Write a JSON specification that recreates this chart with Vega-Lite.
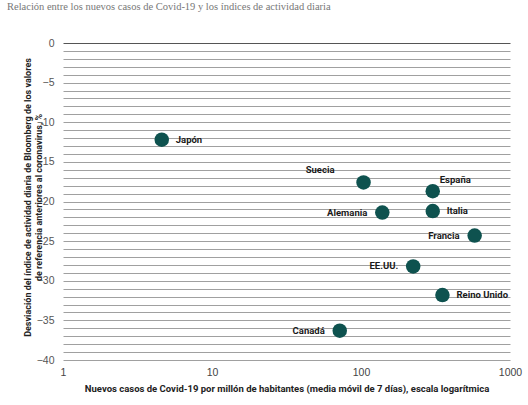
{
  "$schema": "https://vega.github.io/schema/vega-lite/v6.json",
  "width": 447,
  "height": 317,
  "autosize": "none",
  "padding": {"left": 63, "top": 43, "right": 18, "bottom": 45},
  "background": "white",
  "title": {
    "text": "Relación entre los nuevos casos de Covid-19 y los índices de actividad diaria",
    "anchor": "start",
    "frame": "group",
    "dx": -56,
    "offset": 26,
    "font": "Liberation Serif",
    "fontSize": 10.5,
    "fontWeight": "normal",
    "color": "#777777"
  },
  "config": {
    "view": {"stroke": null},
    "axis": {"labelFont": "Liberation Sans, sans-serif", "titleFont": "Roboto, sans-serif"}
  },
  "datasets": {
    "paises": [
      {"pais": "Japón", "casos": 4.6, "actividad": -12.2},
      {"pais": "Suecia", "casos": 104, "actividad": -17.6},
      {"pais": "España", "casos": 303, "actividad": -18.7},
      {"pais": "Alemania", "casos": 139, "actividad": -21.4},
      {"pais": "Italia", "casos": 303, "actividad": -21.2},
      {"pais": "Francia", "casos": 579, "actividad": -24.3},
      {"pais": "EE.UU.", "casos": 224, "actividad": -28.2},
      {"pais": "Reino Unido", "casos": 352, "actividad": -31.8},
      {"pais": "Canadá", "casos": 72, "actividad": -36.3}
    ]
  },
  "data": {"name": "paises"},
  "encoding": {
    "x": {
      "field": "casos",
      "type": "quantitative",
      "scale": {"type": "log", "domain": [1, 1000]},
      "axis": {
        "values": [1, 10, 100, 1000],
        "format": "d",
        "grid": false,
        "ticks": false,
        "domain": false,
        "labelFlush": false,
        "labelColor": "#444444",
        "labelFontSize": 10.5,
        "labelPadding": 7,
        "title": "Nuevos casos de Covid-19 por millón de habitantes (media móvil de 7 días), escala logarítmica",
        "titleFontSize": 9.5,
        "titleFontWeight": "bold",
        "titleColor": "#222222",
        "titlePadding": 6
      }
    },
    "y": {
      "field": "actividad",
      "type": "quantitative",
      "scale": {"domain": [-40, 0], "nice": false},
      "axis": {
        "values": [-40, -39, -38, -37, -36, -35, -34, -33, -32, -31, -30, -29, -28, -27, -26, -25, -24, -23, -22, -21, -20, -19, -18, -17, -16, -15, -14, -13, -12, -11, -10, -9, -8, -7, -6, -5, -4, -3, -2, -1, 0],
        "labelExpr": "datum.value % 5 === 0 ? datum.label : ''",
        "ticks": false,
        "domain": false,
        "grid": true,
        "gridColor": {"condition": {"test": "datum.value === 0", "value": "#555555"}, "value": "#a0a0a0"},
        "gridWidth": 1,
        "labelColor": "#555555",
        "labelFontSize": 10.5,
        "labelPadding": 9,
        "title": ["Desviación del índice de actividad diaria de Bloomberg de los valores", "\u00a0\u00a0\u00a0\u00a0\u00a0\u00a0\u00a0\u00a0\u00a0\u00a0\u00a0\u00a0\u00a0\u00a0\u00a0\u00a0\u00a0\u00a0\u00a0\u00a0\u00a0\u00a0\u00a0\u00a0\u00a0\u00a0de referencia anteriores al coronavirus, %"],
        "titleFontSize": 9,
        "titleFontWeight": "bold",
        "titleColor": "#222222",
        "titleAngle": -90,
        "titleAlign": "center",
        "titleBaseline": "bottom",
        "titleLineHeight": 11,
        "titleX": -31,
        "titleY": 154
      }
    }
  },
  "layer": [
    {
      "data": {"values": [{"corte": 10}, {"corte": 100}]},
      "mark": {"type": "rule", "color": "white", "strokeWidth": 3},
      "encoding": {
        "x": {"field": "corte", "type": "quantitative"},
        "y": {"datum": -0.25},
        "y2": {"datum": -40.4}
      }
    },
    {
      "data": {"values": [{"marca": 1}, {"marca": 10}, {"marca": 100}, {"marca": 1000}]},
      "mark": {"type": "tick", "orient": "vertical", "color": "#555555", "size": 6, "thickness": 1},
      "encoding": {
        "x": {"field": "marca", "type": "quantitative"},
        "y": {"datum": 0}
      }
    },
    {
      "mark": {"type": "circle", "size": 210, "color": "#0e524f", "opacity": 1}
    },
    {
      "transform": [{"filter": {"field": "pais", "oneOf": ["Japón", "Italia", "Reino Unido"]}}],
      "mark": {"type": "text", "align": "left", "dx": 14, "font": "Roboto", "fontWeight": "bold", "fontSize": 9.5, "color": "#1a1a1a"},
      "encoding": {"text": {"field": "pais"}}
    },
    {
      "transform": [{"filter": {"field": "pais", "oneOf": ["Alemania", "Francia", "EE.UU.", "Canadá"]}}],
      "mark": {"type": "text", "align": "right", "dx": -15, "font": "Roboto", "fontWeight": "bold", "fontSize": 9.5, "color": "#1a1a1a"},
      "encoding": {"text": {"field": "pais"}}
    },
    {
      "transform": [{"filter": {"field": "pais", "equal": "Suecia"}}],
      "mark": {"type": "text", "align": "right", "dx": -29, "dy": -12, "font": "Roboto", "fontWeight": "bold", "fontSize": 9.5, "color": "#1a1a1a"},
      "encoding": {"text": {"field": "pais"}}
    },
    {
      "transform": [{"filter": {"field": "pais", "equal": "España"}}],
      "mark": {"type": "text", "align": "left", "dx": 7, "dy": -11, "font": "Roboto", "fontWeight": "bold", "fontSize": 9.5, "color": "#1a1a1a"},
      "encoding": {"text": {"field": "pais"}}
    }
  ]
}
